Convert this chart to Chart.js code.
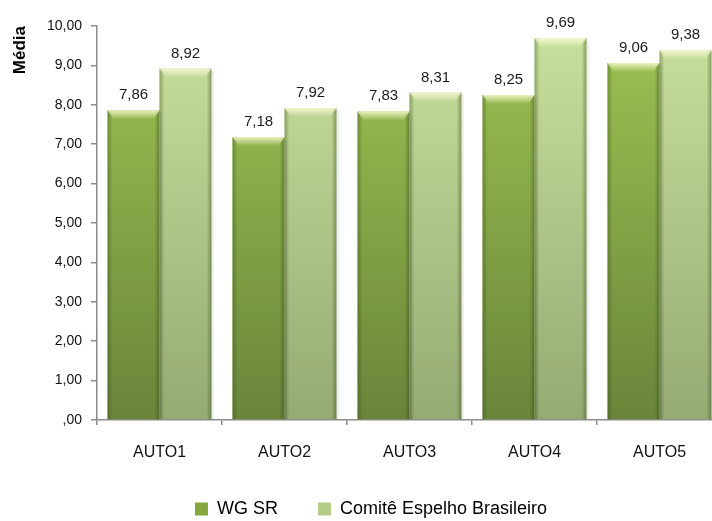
<!DOCTYPE html>
<html>
<head>
<meta charset="utf-8">
<script src="https://cdn.jsdelivr.net/npm/chart.js@4.4.1/dist/chart.umd.min.js"></script>
<style>
    html, body { margin: 0; padding: 0; overflow: hidden; background: #fff; }
    #wrap { width: 740px; height: 521px; }
</style>
</head>
<body>
<div id="wrap"><canvas id="mediaChart"></canvas></div>
<script>
// data
const categories = ['AUTO1', 'AUTO2', 'AUTO3', 'AUTO4', 'AUTO5'];
const seriesNames = ['WG SR', 'Comitê Espelho Brasileiro'];
const wgSrValues = [7.86, 7.18, 7.83, 8.25, 9.06];
const comiteValues = [8.92, 7.92, 8.31, 9.69, 9.38];
const yMin = 0;
const yMax = 10;
const yStep = 1;

const FONT = "'Liberation Sans', Arial, sans-serif";

function fmtNumber(v) {
    let s = v.toFixed(2).replace('.', ',');
    if (s.startsWith('0,')) s = s.substring(1);
    return s;
}

function barFill(topColor, bottomColor) {
    return function (ctx) {
        const area = ctx.chart.chartArea;
        if (!area) return bottomColor;
        const g = ctx.chart.ctx.createLinearGradient(0, area.top, 0, area.bottom);
        g.addColorStop(0, topColor);
        g.addColorStop(1, bottomColor);
        return g;
    };
}

// bevel look on the bars + shadow on the right
const bevelPlugin = {
    id: 'bevel',
    afterDatasetDraw(chart, args) {
        const ctx = chart.ctx;
        const meta = args.meta;
        meta.data.forEach(function (bar) {
            const p = bar.getProps(['x', 'y', 'base', 'width'], true);
            const left = p.x - p.width / 2;
            const right = p.x + p.width / 2;
            const top = p.y;
            const bottom = p.base;
            ctx.save();
            // shadow
            ctx.strokeStyle = 'rgba(0,0,0,0.25)';
            ctx.setLineDash([1, 1]);
            ctx.lineWidth = 1;
            ctx.beginPath();
            ctx.moveTo(right + 1.5, top + 3);
            ctx.lineTo(right + 1.5, bottom);
            ctx.stroke();
            ctx.setLineDash([]);
            // side edges
            let g = ctx.createLinearGradient(left, 0, left + 5, 0);
            g.addColorStop(0, 'rgba(40,60,10,0.35)');
            g.addColorStop(1, 'rgba(40,60,10,0)');
            ctx.fillStyle = g;
            ctx.fillRect(left, top, 5, bottom - top);
            g = ctx.createLinearGradient(right - 5, 0, right, 0);
            g.addColorStop(0, 'rgba(40,60,10,0)');
            g.addColorStop(1, 'rgba(40,60,10,0.4)');
            ctx.fillStyle = g;
            ctx.fillRect(right - 5, top, 5, bottom - top);
            // top highlight
            g = ctx.createLinearGradient(0, top, 0, top + 9);
            g.addColorStop(0, 'rgba(255,255,220,0.8)');
            g.addColorStop(0.5, 'rgba(255,255,220,0.4)');
            g.addColorStop(1, 'rgba(255,255,220,0)');
            ctx.fillStyle = g;
            ctx.beginPath();
            ctx.moveTo(left, top);
            ctx.lineTo(right, top);
            ctx.lineTo(right - 6, top + 9);
            ctx.lineTo(left + 6, top + 9);
            ctx.closePath();
            ctx.fill();
            ctx.restore();
        });
    }
};

// value labels above bars
const valueLabels = {
    id: 'valueLabels',
    afterDatasetsDraw(chart) {
        const ctx = chart.ctx;
        ctx.save();
        ctx.font = '15px ' + FONT;
        ctx.fillStyle = '#1a1a1a';
        ctx.textAlign = 'center';
        ctx.textBaseline = 'alphabetic';
        chart.data.datasets.forEach(function (ds, i) {
            const meta = chart.getDatasetMeta(i);
            meta.data.forEach(function (bar, j) {
                ctx.fillText(fmtNumber(ds.data[j]), bar.x, bar.y - 11);
            });
        });
        ctx.restore();
    }
};

const legendColors = ['#86A83F', '#B4CC86'];

const chartData = {
    labels: categories,
    datasets: [
        {
            label: seriesNames[0],
            data: wgSrValues,
            backgroundColor: barFill('#9DC352', '#69853A'),
            borderWidth: 0
        },
        {
            label: seriesNames[1],
            data: comiteValues,
            backgroundColor: barFill('#C8E09C', '#96AA74'),
            borderWidth: 0
        }
    ]
};

const config = {
    type: 'bar',
    data: chartData,
    options: {
        responsive: true,
        maintainAspectRatio: false,
        animation: false,
        datasets: {
            bar: {
                categoryPercentage: 0.832,
                barPercentage: 1.0
            }
        },
        layout: {
            padding: { top: 26, right: 18, bottom: -7, left: 20 }
        },
        plugins: {
            tooltip: { enabled: false },
            legend: {
                position: 'bottom',
                labels: {
                    boxWidth: 13,
                    boxHeight: 13,
                    padding: 40,
                    color: '#111',
                    font: { family: FONT, size: 18 },
                    generateLabels(chart) {
                        return chart.data.datasets.map(function (ds, i) {
                            return {
                                text: ds.label,
                                fillStyle: legendColors[i],
                                strokeStyle: 'rgba(0,0,0,0)',
                                lineWidth: 0,
                                datasetIndex: i
                            };
                        });
                    }
                }
            }
        },
        scales: {
            x: {
                offset: true,
                border: { display: true, color: '#8c8c8c', width: 1.5 },
                grid: {
                    offset: true,
                    drawOnChartArea: false,
                    drawTicks: true,
                    tickLength: 5,
                    color: '#8c8c8c',
                    lineWidth: 1.5
                },
                ticks: {
                    color: '#111',
                    padding: 18,
                    font: { family: FONT, size: 16 }
                },
                afterFit(scale) { scale.height = 40; }
            },
            y: {
                min: yMin,
                max: yMax,
                border: { display: true, color: '#8c8c8c', width: 1.5 },
                grid: {
                    drawOnChartArea: false,
                    drawTicks: true,
                    tickLength: 6,
                    color: '#8c8c8c',
                    lineWidth: 1.5
                },
                ticks: {
                    stepSize: yStep,
                    color: '#111',
                    padding: 9,
                    font: { family: FONT, size: 14 },
                    callback: function (v) { return fmtNumber(v); }
                },
                title: {
                    display: true,
                    text: 'Média',
                    align: 'end',
                    color: '#000',
                    padding: { top: -10, bottom: 0 },
                    font: { family: FONT, size: 17, weight: 'bold' }
                },
                afterFit(scale) { scale.width = 77; }
            }
        }
    },
    plugins: [bevelPlugin, valueLabels]
};

new Chart(document.getElementById('mediaChart'), config);
</script>
</body>
</html>
